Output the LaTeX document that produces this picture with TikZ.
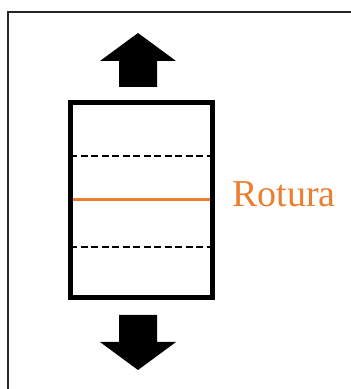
\documentclass[tikz,border=0pt]{standalone}
\usepackage{fontspec}
\setmainfont{Liberation Serif}
\newfontfamily\labelfont{Liberation Serif}
\definecolor{rotura}{RGB}{237,125,49}
\begin{document}
\begin{tikzpicture}[x=1pt,y=1pt,
  frame/.style={draw=black!85,line width=1.3pt},
  specimen/.style={draw=black,line width=5pt},
  guide/.style={draw=black,line width=1.2pt,dash pattern=on 7pt off 3.5pt},
  crack/.style={draw=rotura,line width=3pt},
  pull/.style={fill=black,draw=none}]
\useasboundingbox (0,0) rectangle (351,389);
% outer frame
\draw[frame] (352,377) -- (8,377) -- (8,-2);
% pulling arrows
\fill[pull] (119,302) -- (119,328) -- (100,328) -- (138,356) -- (176,328) -- (157,328) -- (157,302) -- cycle;
\fill[pull] (119,74) -- (119,47) -- (100,47) -- (138,19) -- (176,47) -- (157,47) -- (157,74) -- cycle;
% specimen with gauge marks and fracture line
\coordinate (gl1) at (70,233);
\coordinate (gr1) at (212,233);
\coordinate (gl2) at (70,142);
\coordinate (gr2) at (212,142);
\coordinate (cl) at (70,189);
\coordinate (cr) at (212,189);
\draw[guide] (gl1) -- (gr1);
\draw[guide] (gl2) -- (gr2);
\draw[crack] (cl) -- (cr);
\draw[specimen] (70,91) rectangle (212,286);
\node[anchor=base west,inner sep=0pt,text=rotura,font=\labelfont\fontsize{38}{42}\selectfont] (lbl) at (232,182) {Rotura};
\end{tikzpicture}
\end{document}
